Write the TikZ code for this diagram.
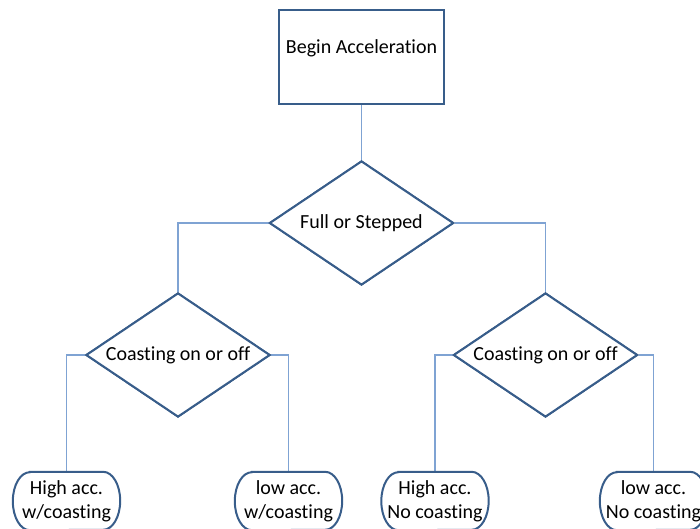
\documentclass[tikz,border=0pt]{standalone}
\usepackage{fontspec}
\setmainfont{Carlito}[Ligatures=NoCommon]
\usetikzlibrary{shapes.geometric}

\definecolor{shapeline}{HTML}{385D8A}
\definecolor{linkline}{HTML}{7FA3D3}

\tikzset{
  txt/.style={font=\fontsize{20}{24}\selectfont, text=black, align=center, inner sep=0pt},
  startbox/.style={draw=shapeline, line width=2pt, fill=white, minimum width=165, minimum height=94, inner sep=0pt},
  decision/.style={diamond, draw=shapeline, line width=2pt, fill=white, aspect=1.48,
    minimum width=184, minimum height=124, inner sep=0pt, txt},
  endbox/.style={minimum width=107, minimum height=58, inner sep=0pt, txt},
  endline/.style={draw=shapeline, line width=2pt, fill=white},
  link/.style={draw=linkline, line width=1.2pt},
}

% outline of a flowchart terminator around a named node
\newcommand{\terminator}[1]{%
  \path[endline] ([xshift=17]#1.north west) -- ([xshift=-17]#1.north east)
    arc[start angle=-90, end angle=90, x radius=17, y radius=29]
    -- ([xshift=17]#1.south west)
    arc[start angle=90, end angle=270, x radius=17, y radius=29] -- cycle;
}

\begin{document}
\begin{tikzpicture}[x=1pt, y=-1pt]
  \useasboundingbox (0,0) rectangle (700,528);
  \clip (0,0) rectangle (700,528);

  % nodes
  \node[startbox] (begin) at (361.5,57) {};
  \node[txt] (beginlbl) at (361.5,48) {Begin Acceleration};
  \node[decision] (mode) at (361.5,223) {Full or Stepped};
  \node[decision] (coastL) at (178,355) {Coasting on or off};
  \node[decision] (coastR) at (545.5,355) {Coasting on or off};

  \node[endbox] (t1) at (66.5,501) {};
  \node[endbox] (t2) at (288.5,501) {};
  \node[endbox] (t3) at (435,501) {};
  \node[endbox] (t4) at (653.5,501) {};

  % connectors
  \draw[link] (begin.south) -- (mode.north);
  \draw[link] (mode.west) -| (coastL.north);
  \draw[link] (mode.east) -| (coastR.north);
  \draw[link] (coastL.west) -| (t1.north);
  \draw[link] (coastL.east) -| (t2.north);
  \draw[link] (coastR.west) -| (t3.north);
  \draw[link] (coastR.east) -| (t4.north);

  % shapes on top of the connector ends
  \node[startbox] at (begin) {};
  \node[txt] at (beginlbl) {Begin Acceleration};
  \node[decision] at (mode) {Full or Stepped};
  \node[decision] at (coastL) {Coasting on or off};
  \node[decision] at (coastR) {Coasting on or off};

  % terminators
  \terminator{t1}
  \terminator{t2}
  \terminator{t3}
  \terminator{t4}
  \node[txt] at (t1) {High acc.\\w/coasting};
  \node[txt] at (t2) {low acc.\\w/coasting};
  \node[txt] at (t3) {High acc.\\No coasting};
  \node[txt] at (t4) {low acc.\\No coasting};
\end{tikzpicture}
\end{document}
